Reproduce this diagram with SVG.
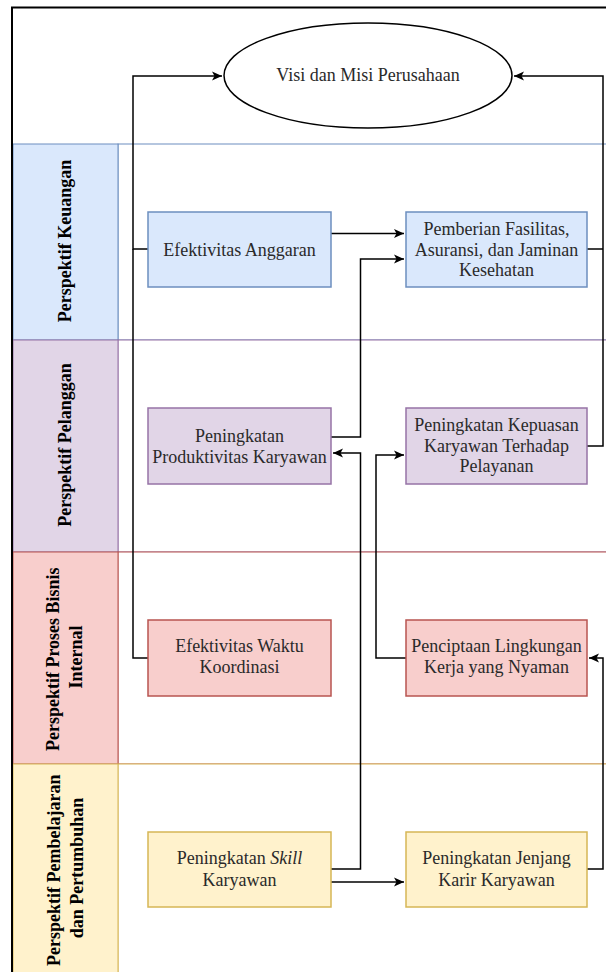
<svg xmlns="http://www.w3.org/2000/svg" width="606" height="972" viewBox="0 0 606 972">
  <style>
    .lbl { font-family: "Liberation Serif", "Times New Roman", serif; font-size: 18px; font-weight: bold; fill: #000; text-anchor: middle; }
    .txt { font-family: "Liberation Serif", "Times New Roman", serif; font-size: 18px; fill: #2a2a2a; text-anchor: middle; }
    .conn { fill: none; stroke: #000; stroke-width: 1.5; }
    .blue { fill: #dae8fc; stroke: #6c8ebf; stroke-width: 1.5; }
    .purple { fill: #e1d5e7; stroke: #9673a6; stroke-width: 1.5; }
    .red { fill: #f8cecc; stroke: #b85450; stroke-width: 1.5; }
    .yellow { fill: #fff2cc; stroke: #d6b656; stroke-width: 1.5; }
  </style>
  <defs>
    <marker id="arr" markerUnits="userSpaceOnUse" markerWidth="11" markerHeight="10" refX="10" refY="5" orient="auto">
      <path d="M0,0.5 L10,5 L0,9.5 L2.5,5 Z" fill="#000"/>
    </marker>
  </defs>
  <rect x="0" y="0" width="606" height="972" fill="#fff"/>

  <!-- Lanes -->
  <g id="lane-keuangan">
    <rect x="118" y="144" width="500" height="196" fill="#fff" stroke="#6c8ebf" stroke-width="1"/>
    <rect x="13" y="144" width="105" height="196" fill="#dae8fc" stroke="#6c8ebf" stroke-width="1"/>
    <text class="lbl" transform="translate(0,241) rotate(-90)" x="0" y="71">Perspektif Keuangan</text>
  </g>
  <g id="lane-pelanggan">
    <rect x="118" y="340" width="500" height="212" fill="#fff" stroke="#9673a6" stroke-width="1"/>
    <rect x="13" y="340" width="105" height="212" fill="#e1d5e7" stroke="#9673a6" stroke-width="1"/>
    <text class="lbl" transform="translate(0,445) rotate(-90)" x="0" y="71">Perspektif Pelanggan</text>
  </g>
  <g id="lane-proses">
    <rect x="118" y="552" width="500" height="212" fill="#fff" stroke="#b85450" stroke-width="1"/>
    <rect x="13" y="552" width="105" height="212" fill="#f8cecc" stroke="#b85450" stroke-width="1"/>
    <text class="lbl" transform="translate(0,657) rotate(-90)">
      <tspan x="0" y="59">Perspektif Proses Bisnis</tspan>
      <tspan x="0" y="82">Internal</tspan>
    </text>
  </g>
  <g id="lane-pembelajaran">
    <rect x="118" y="764" width="500" height="220" fill="#fff" stroke="#d6b656" stroke-width="1"/>
    <rect x="13" y="764" width="105" height="220" fill="#fff2cc" stroke="#d6b656" stroke-width="1"/>
    <text class="lbl" transform="translate(0,868) rotate(-90)">
      <tspan x="0" y="59.5">Perspektif Pembelajaran</tspan>
      <tspan x="0" y="82.5">dan Pertumbuhan</tspan>
    </text>
  </g>

  <!-- Outer frame -->
  <path d="M12,972 V7.5 H606" fill="none" stroke="#000" stroke-width="2"/>

  <!-- Connectors -->
  <g id="connectors">
    <path class="conn" d="M331,233.5 H404" marker-end="url(#arr)"/>
    <path class="conn" d="M331,437 H360.5 V259 H404" marker-end="url(#arr)"/>
    <path class="conn" d="M331,869 H360.5 V453 H333" marker-end="url(#arr)"/>
    <path class="conn" d="M406,658 H376 V455 H404" marker-end="url(#arr)"/>
    <path class="conn" d="M587,446 H603 V76 H514" marker-end="url(#arr)"/>
    <path class="conn" d="M587,249 H603"/>
    <path class="conn" d="M148,249 H133 V76 H222" marker-end="url(#arr)"/>
    <path class="conn" d="M148,658 H133 V249"/>
    <path class="conn" d="M587,869 H603 V658 H589" marker-end="url(#arr)"/>
    <path class="conn" d="M331,882 H404" marker-end="url(#arr)"/>
  </g>

  <!-- Nodes -->
  <g id="visi">
    <ellipse cx="368" cy="75.5" rx="144" ry="52.5" fill="#fff" stroke="#000" stroke-width="1.5"/>
    <text class="txt" x="368" y="81">Visi dan Misi Perusahaan</text>
  </g>
  <g id="efektivitas-anggaran">
    <rect class="blue" x="148" y="212" width="183" height="75"/>
    <text class="txt" x="239.5" y="255.5">Efektivitas Anggaran</text>
  </g>
  <g id="pemberian-fasilitas">
    <rect class="blue" x="406" y="212" width="181" height="75"/>
    <text class="txt" x="496.5" y="235">Pemberian Fasilitas,<tspan x="496.5" y="255.5">Asuransi, dan Jaminan</tspan><tspan x="496.5" y="276">Kesehatan</tspan></text>
  </g>
  <g id="produktivitas">
    <rect class="purple" x="148" y="408" width="183" height="76"/>
    <text class="txt" x="239.5" y="441.5">Peningkatan<tspan x="239.5" y="462.5">Produktivitas Karyawan</tspan></text>
  </g>
  <g id="kepuasan">
    <rect class="purple" x="406" y="408" width="181" height="76"/>
    <text class="txt" x="496.5" y="431">Peningkatan Kepuasan<tspan x="496.5" y="451.5">Karyawan Terhadap</tspan><tspan x="496.5" y="472">Pelayanan</tspan></text>
  </g>
  <g id="efektivitas-waktu">
    <rect class="red" x="148" y="620" width="183" height="76"/>
    <text class="txt" x="239.5" y="652">Efektivitas Waktu<tspan x="239.5" y="673">Koordinasi</tspan></text>
  </g>
  <g id="penciptaan">
    <rect class="red" x="406" y="620" width="181" height="76"/>
    <text class="txt" x="496.5" y="652">Penciptaan Lingkungan<tspan x="496.5" y="673">Kerja yang Nyaman</tspan></text>
  </g>
  <g id="skill">
    <rect class="yellow" x="148" y="832" width="183" height="75"/>
    <text class="txt" x="239.5" y="864">Peningkatan <tspan font-style="italic">Skill</tspan><tspan x="239.5" y="885.5">Karyawan</tspan></text>
  </g>
  <g id="jenjang">
    <rect class="yellow" x="406" y="832" width="181" height="75"/>
    <text class="txt" x="496.5" y="864">Peningkatan Jenjang<tspan x="496.5" y="885.5">Karir Karyawan</tspan></text>
  </g>
</svg>
